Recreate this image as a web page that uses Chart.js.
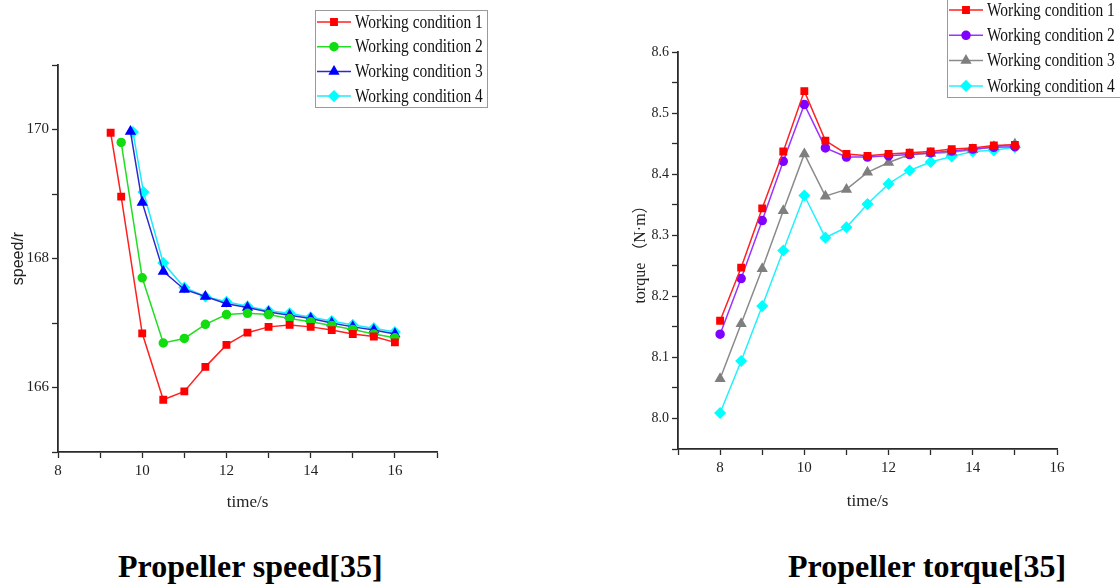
<!DOCTYPE html>
<html>
<head>
<meta charset="utf-8">
<script src="https://cdn.jsdelivr.net/npm/chart.js@4"></script>
<style>
  body { margin: 0; background: #fff; width: 1120px; height: 584px; position: relative; overflow: hidden; }
  .box { position: absolute; top: 0; width: 560px; height: 520px; }
  .cap { position: absolute; top: 548px; font: bold 32px "Liberation Serif", "Times New Roman", serif; color: #000; white-space: nowrap; }
</style>
</head>
<body>
<div class="box" style="left:0"><canvas id="speedChart"></canvas></div>
<div class="box" style="left:560px"><canvas id="torqueChart"></canvas></div>
<div class="cap" style="left:118px">Propeller speed[35]</div>
<div class="cap" style="left:788px">Propeller torque[35]</div>
<script>
// series names
const conditions = ['Working condition 1', 'Working condition 2', 'Working condition 3', 'Working condition 4'];

// propeller speed (time/s, speed/r)
const speedTime1 = [9.25, 9.5, 10, 10.5, 11, 11.5, 12, 12.5, 13, 13.5, 14, 14.5, 15, 15.5, 16];
const speedWC1 = [169.95, 168.96, 166.84, 165.81, 165.94, 166.32, 166.66, 166.85, 166.94, 166.97, 166.94, 166.89, 166.83, 166.79, 166.70];
const speedTime2 = [9.5, 10, 10.5, 11, 11.5, 12, 12.5, 13, 13.5, 14, 14.5, 15, 15.5, 16];
const speedWC2 = [169.80, 167.70, 166.69, 166.76, 166.98, 167.13, 167.15, 167.13, 167.07, 167.02, 166.96, 166.90, 166.83, 166.77];
const speedTime3 = [9.72, 10, 10.5, 11, 11.5, 12, 12.5, 13, 13.5, 14, 14.5, 15, 15.5, 16];
const speedWC3 = [169.97, 168.87, 167.80, 167.52, 167.41, 167.30, 167.24, 167.17, 167.12, 167.07, 167.00, 166.94, 166.89, 166.83];
const speedTime4 = [9.78, 10.03, 10.5, 11, 11.5, 12, 12.5, 13, 13.5, 14, 14.5, 15, 15.5, 16];
const speedWC4 = [169.96, 169.03, 167.93, 167.55, 167.41, 167.33, 167.26, 167.19, 167.15, 167.09, 167.03, 166.97, 166.92, 166.86];

// propeller torque (time/s, N·m)
const torqueTime = [8, 8.5, 9, 9.5, 10, 10.5, 11, 11.5, 12, 12.5, 13, 13.5, 14, 14.5, 15];
const torqueWC1 = [8.160, 8.247, 8.344, 8.437, 8.536, 8.455, 8.433, 8.430, 8.433, 8.435, 8.437, 8.441, 8.443, 8.447, 8.448];
const torqueWC2 = [8.138, 8.229, 8.324, 8.421, 8.514, 8.443, 8.428, 8.428, 8.430, 8.432, 8.435, 8.438, 8.441, 8.444, 8.445];
const torqueWC3 = [8.065, 8.155, 8.245, 8.340, 8.433, 8.364, 8.375, 8.403, 8.419, 8.432, 8.434, 8.436, 8.440, 8.445, 8.449];
const torqueWC4 = [8.009, 8.094, 8.184, 8.275, 8.365, 8.296, 8.313, 8.351, 8.384, 8.406, 8.420, 8.429, 8.437, 8.439, 8.444];

const serif = '"Liberation Serif", "Times New Roman", serif';
const axisColor = '#2a2a2a';

function pts(xs, ys) {
    return ys.map((y, i) => ({ x: xs[i], y: y }));
}

function series(label, data, color, markerColor, style, radius) {
    return {
        label: label,
        data: data,
        borderColor: color,
        backgroundColor: markerColor,
        pointBorderColor: markerColor,
        pointBackgroundColor: markerColor,
        pointStyle: style,
        pointRadius: radius,
        pointHoverRadius: radius,
        borderWidth: 1.5,
        tension: 0
    };
}

// legend with a framed box, line + marker and text, like the original figure
const boxLegend = {
    id: 'boxLegend',
    afterDraw(chart, args, opts) {
        const ctx = chart.ctx;
        ctx.save();
        ctx.strokeStyle = '#9a9a9a';
        ctx.lineWidth = 1;
        ctx.strokeRect(opts.x + 0.5, opts.y + 0.5, opts.w, opts.h);
        chart.data.datasets.forEach((ds, i) => {
            const cy = opts.y + opts.first + i * opts.rowH;
            ctx.strokeStyle = ds.borderColor;
            ctx.lineWidth = 1.5;
            ctx.beginPath();
            ctx.moveTo(opts.x + 2, cy);
            ctx.lineTo(opts.x + 36, cy);
            ctx.stroke();
            ctx.fillStyle = ds.pointBackgroundColor;
            ctx.strokeStyle = ds.pointBorderColor;
            Chart.helpers.drawPoint(ctx, { pointStyle: ds.pointStyle, radius: ds.pointRadius, rotation: 0, borderWidth: 1 }, opts.x + 19, cy);
            ctx.save();
            ctx.translate(opts.x + 40, cy);
            ctx.scale(0.86, 1);
            ctx.fillStyle = '#111';
            ctx.font = '18px ' + serif;
            ctx.textBaseline = 'middle';
            ctx.fillText(ds.label, 0, 1);
            ctx.restore();
        });
        ctx.restore();
    }
};

function makeOptions(cfg) {
    return {
        responsive: true,
        maintainAspectRatio: false,
        animation: false,
        layout: { padding: cfg.padding },
        plugins: {
            legend: { display: false },
            tooltip: { enabled: false },
            boxLegend: cfg.legend
        },
        scales: {
            x: {
                type: 'linear',
                min: cfg.xMin,
                max: cfg.xMax,
                afterFit: s => { s.height = cfg.xHeight; },
                border: { color: axisColor, width: 1.8 },
                grid: { drawOnChartArea: false, tickLength: 6, tickColor: axisColor, tickWidth: 1.3 },
                ticks: {
                    stepSize: 1,
                    color: '#222',
                    font: { family: serif, size: 15 },
                    padding: 4,
                    maxRotation: 0,
                    autoSkip: false,
                    callback: v => (v % 2 === 0 ? String(v) : '')
                },
                title: {
                    display: true,
                    text: 'time/s',
                    color: '#222',
                    font: { family: serif, size: 17 },
                    padding: { top: 4, bottom: 4 }
                }
            },
            y: {
                type: 'linear',
                min: cfg.yMin,
                max: cfg.yMax,
                afterFit: s => { s.width = cfg.yWidth; },
                border: { color: axisColor, width: 1.8 },
                grid: { drawOnChartArea: false, tickLength: 6, tickColor: axisColor, tickWidth: 1.3 },
                ticks: {
                    stepSize: cfg.yStep,
                    color: '#222',
                    font: { family: serif, size: cfg.yTickSize },
                    padding: 3,
                    autoSkip: false,
                    callback: cfg.yLabel
                },
                title: {
                    display: true,
                    text: cfg.yTitle,
                    color: '#222',
                    font: cfg.yTitleFont,
                    padding: { top: 4, bottom: 4 }
                }
            }
        }
    };
}

new Chart(document.querySelector('#speedChart').getContext('2d'), {
    type: 'line',
    data: {
        datasets: [
            series(conditions[0], pts(speedTime1, speedWC1), '#ff2020', '#ff0000', 'rect', 4.5),
            series(conditions[1], pts(speedTime2, speedWC2), '#22dd22', '#11dd11', 'circle', 4),
            series(conditions[2], pts(speedTime3, speedWC3), '#2a2ad0', '#0000ff', 'triangle', 5),
            series(conditions[3], pts(speedTime4, speedWC4), '#22e8ff', '#00ffff', 'rectRot', 5)
        ]
    },
    options: makeOptions({
        padding: { left: 5, top: 65, right: 123, bottom: 3 },
        xMin: 8, xMax: 17, xHeight: 65,
        yMin: 165, yMax: 171, yStep: 1, yWidth: 53, yTickSize: 15,
        yLabel: v => (v % 2 === 0 ? String(v) : ''),
        yTitle: 'speed/r',
        yTitleFont: { family: '"Liberation Sans", Arial, sans-serif', size: 16 },
        legend: { x: 315, y: 10, w: 172, h: 97, first: 12, rowH: 24.7 }
    }),
    plugins: [boxLegend]
});

new Chart(document.querySelector('#torqueChart').getContext('2d'), {
    type: 'line',
    data: {
        datasets: [
            series(conditions[0], pts(torqueTime, torqueWC1), '#ff2020', '#ff0000', 'rect', 4.5),
            series(conditions[1], pts(torqueTime, torqueWC2), '#9933ff', '#8000ff', 'circle', 4),
            series(conditions[2], pts(torqueTime, torqueWC3), '#8a8a8a', '#7f7f7f', 'triangle', 5),
            series(conditions[3], pts(torqueTime, torqueWC4), '#22f0ff', '#00ffff', 'rectRot', 5)
        ]
    },
    options: makeOptions({
        padding: { left: 67, top: 52, right: 63, bottom: 4 },
        xMin: 7, xMax: 16, xHeight: 67,
        yMin: 7.95, yMax: 8.6, yStep: 0.05, yWidth: 51, yTickSize: 14,
        yLabel: v => (Math.abs(v * 10 - Math.round(v * 10)) < 1e-6 ? v.toFixed(1) : ''),
        yTitle: 'torque （N·m）',
        yTitleFont: { family: serif + ', "Noto Sans CJK SC"', size: 16 },
        legend: { x: 387, y: -3, w: 180, h: 100, first: 13, rowH: 25.3 }
    }),
    plugins: [boxLegend]
});
</script>
</body>
</html>
